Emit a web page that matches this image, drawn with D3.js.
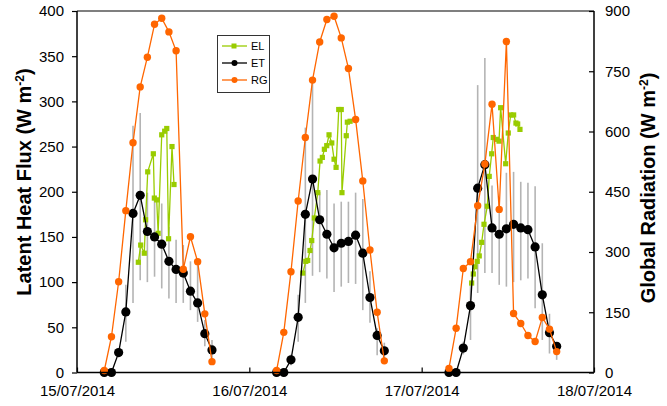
<!DOCTYPE html>
<html><head><meta charset="utf-8">
<script src="https://cdn.jsdelivr.net/npm/d3@7"></script>
<style>
html,body{margin:0;padding:0;background:#fff;}
svg text{font-family:"Liberation Sans",Arial,sans-serif;}
</style></head>
<body><svg id="chart" width="667" height="406"></svg>
<script>
// ---- DATA ----
const dayStarts = ["2014-07-15", "2014-07-16", "2014-07-17"];
const tickDates = ["2014-07-15", "2014-07-16", "2014-07-17", "2014-07-18"];
const leTicks = [0, 50, 100, 150, 200, 250, 300, 350, 400];
const rgTicks = [0, 150, 300, 450, 600, 750, 900];
// hour of day of the hourly RG / ET records
const hourlyHours = [3.8, 4.8, 5.8, 6.8, 7.8, 8.8, 9.8, 10.8, 11.8, 12.8, 13.8, 14.8, 15.8, 16.8, 17.8, 18.8];
// Global radiation (W m-2), right axis
const rgDay1 = [5, 89, 226, 403, 572, 711, 785, 867, 882, 848, 801, 257, 338, 276, 146, 27];
const rgDay2 = [5, 100, 251, 427, 585, 728, 823, 879, 887, 833, 757, 630, 477, 305, 150, 29];
const rgDay3 = [10, 110, 259, 276, 415, 519, 668, 406, 824, 147, 122, 92, 77, 137, 108, 52];
// ET latent heat flux (W m-2)
const etDay1 = [0, 0, 22, 67, 176, 196, 156, 150, 142, 123, 114, 110, 90, 77, 43, 25];
const etDay2 = [0, 0, 14, 61, 175, 214, 169, 153, 138, 143, 145, 152, 132, 83, 41, 24];
const etDay3 = [0, 0, 27, 74, 204, 230, 160, 153, 159, 164, 160, 158, 139, 86, 44, 29];
// ET error bar low / high
const etLowDay1 = [null, null, 17, 34, 77, 102, 100, 106, 93, 82, 77, 77, 69, 56, 29, 10];
const etHighDay1 = [null, null, 27, 97, 273, 287, 199, 191, 187, 161, 147, 141, 123, 121, 58, 36];
const etLowDay2 = [null, null, 8, 34, 77, 107, 111, 104, 89, 95, 99, 98, 69, 55, 19, 15];
const etHighDay2 = [null, null, 20, 86, 271, 323, 200, 202, 187, 189, 189, 199, 192, 112, 49, 33];
const etLowDay3 = [null, null, 20, 36, 88, 110, 110, 97, 95, 100, 102, 104, 71, 36, 21, 14];
const etHighDay3 = [null, null, 34, 99, 318, 348, 207, 194, 221, 222, 211, 210, 206, 143, 65, 32];
// EL latent heat flux (W m-2), ~20 min records
const elHoursDay1 = [8.54, 8.87, 9.37, 9.55, 9.85, 10.63, 10.77, 11.1, 11.3, 11.8, 12.21, 12.5, 12.75, 13.23, 13.51];
const elDay1 = [122, 141, 132, 169, 222, 242, 193, 191, 154, 263, 267, 270, 148, 250, 208];
const elHoursDay2 = [7.44, 7.86, 8.13, 8.45, 8.69, 9.05, 9.53, 9.85, 10.17, 10.45, 10.78, 11.1, 11.48, 11.8, 12.08, 12.45, 12.8, 12.9, 13.5, 13.65, 14.03];
const elDay2 = [110, 123, 124, 135, 146, 171, 199, 234, 238, 247, 251, 263, 254, 236, 227, 291, 291, 199, 262, 277, 278];
const elHoursDay3 = [6.96, 7.19, 7.42, 7.74, 8.02, 8.36, 8.68, 9.14, 9.41, 9.75, 9.97, 10.45, 10.77, 11.0, 11.7, 12.06, 12.4, 12.81, 13.13, 13.37, 13.69];
const elDay3 = [99, 109, 117, 123, 129, 144, 164, 184, 217, 242, 260, 258, 256, 293, 231, 265, 285, 285, 276, 275, 269];
const seriesNames = ["EL", "ET", "RG"];

// ---- BUILD ----
const parseDay = d3.timeParse("%Y-%m-%d");
const at = (day, h) => new Date(parseDay(day).getTime() + h * 3600e3);

const rgAll = [rgDay1, rgDay2, rgDay3];
const etAll = [etDay1, etDay2, etDay3];
const lowAll = [etLowDay1, etLowDay2, etLowDay3];
const highAll = [etHighDay1, etHighDay2, etHighDay3];
const elHAll = [elHoursDay1, elHoursDay2, elHoursDay3];
const elAll = [elDay1, elDay2, elDay3];

const rgDays = dayStarts.map((d, i) => hourlyHours.map((h, j) => ({t: at(d, h), v: rgAll[i][j]})));
const etDays = dayStarts.map((d, i) => hourlyHours.map((h, j) => ({t: at(d, h), v: etAll[i][j], lo: lowAll[i][j], hi: highAll[i][j]})));
const elDays = dayStarts.map((d, i) => elHAll[i].map((h, j) => ({t: at(d, h), v: elAll[i][j]})));

const W = 667, H = 406;
const m = {left: 77, right: 73, top: 11, bottom: 33.5};
const svg = d3.select("#chart");

const x = d3.scaleTime().domain([parseDay(tickDates[0]), parseDay(tickDates[3])]).range([m.left, W - m.right]);
const yL = d3.scaleLinear().domain([0, 400]).range([H - m.bottom, m.top]);
const yR = d3.scaleLinear().domain([0, 900]).range([H - m.bottom, m.top]);

const C = {EL: "#99cc00", ET: "#000000", RG: "#ff6600", bar: "#b4b4b4"};

// error bars
const gBars = svg.append("g");
etDays.forEach(day => {
  gBars.selectAll(null).data(day.filter(d => d.lo != null)).enter().append("line")
    .attr("x1", d => x(d.t)).attr("x2", d => x(d.t))
    .attr("y1", d => yL(d.lo)).attr("y2", d => yL(d.hi))
    .attr("stroke", C.bar).attr("stroke-width", 1.6);
});

const lineL = d3.line().x(d => x(d.t)).y(d => yL(d.v));
const lineR = d3.line().x(d => x(d.t)).y(d => yR(d.v));

// EL
elDays.forEach(day => {
  svg.append("path").datum(day).attr("d", lineL).attr("fill", "none").attr("stroke", C.EL).attr("stroke-width", 1.3);
  svg.selectAll(null).data(day).enter().append("rect")
    .attr("x", d => x(d.t) - 2.6).attr("y", d => yL(d.v) - 2.6).attr("width", 5.2).attr("height", 5.2).attr("fill", C.EL);
});
// ET
etDays.forEach(day => {
  svg.append("path").datum(day).attr("d", lineL).attr("fill", "none").attr("stroke", C.ET).attr("stroke-width", 1.3);
  svg.selectAll(null).data(day).enter().append("circle")
    .attr("cx", d => x(d.t)).attr("cy", d => yL(d.v)).attr("r", 4.6).attr("fill", C.ET);
});
// RG
rgDays.forEach(day => {
  svg.append("path").datum(day).attr("d", lineR).attr("fill", "none").attr("stroke", C.RG).attr("stroke-width", 1.3);
  svg.selectAll(null).data(day).enter().append("circle")
    .attr("cx", d => x(d.t)).attr("cy", d => yR(d.v)).attr("r", 3.7).attr("fill", C.RG);
});

// frame
svg.append("line").attr("x1", m.left).attr("x2", W - m.right).attr("y1", m.top).attr("y2", m.top)
  .attr("stroke", "#555").attr("stroke-width", 1.3);

// axes
const fs = 15;
const axL = svg.append("g").attr("transform", `translate(${m.left},0)`)
  .call(d3.axisLeft(yL).tickValues(leTicks).tickSize(5).tickPadding(8).tickFormat(d3.format("d")));
const axR = svg.append("g").attr("transform", `translate(${W - m.right},0)`)
  .call(d3.axisRight(yR).tickValues(rgTicks).tickSize(-5).tickPadding(11).tickFormat(d3.format("d")));
const axB = svg.append("g").attr("transform", `translate(0,${H - m.bottom})`)
  .call(d3.axisBottom(x).tickValues(tickDates.map(parseDay)).tickSize(-5).tickPadding(13).tickFormat(d3.timeFormat("%d/%m/%Y")));
[axL, axR, axB].forEach(a => {
  a.select(".domain").attr("stroke", "#000").attr("stroke-width", 1.5);
  a.selectAll(".tick line").attr("stroke", "#000").attr("stroke-width", 1.2);
  a.selectAll(".tick text").attr("font-size", fs).attr("fill", "#000").attr("font-family", "Liberation Sans, Arial, sans-serif");
});
axB.selectAll(".domain").attr("d", `M${m.left},0H${W - m.right}`);
axL.selectAll(".domain").attr("d", `M0,${m.top}V${H - m.bottom}`);
axR.selectAll(".domain").attr("d", `M0,${m.top}V${H - m.bottom}`);

// titles
function title(tx, ty, label) {
  const t = svg.append("text").attr("transform", `translate(${tx},${ty}) rotate(-90)`)
    .attr("text-anchor", "middle").attr("font-weight", "bold").attr("font-size", 20).attr("fill", "#000");
  t.append("tspan").text(label + " (W m");
  t.append("tspan").attr("baseline-shift", "super").attr("font-size", 12).text("-2");
  t.append("tspan").text(")");
}
title(31, 182, "Latent Heat Flux");
title(655, 188, "Global Radiation");

// legend
const lg = svg.append("g");
lg.append("rect").attr("x", 217.5).attr("y", 35.5).attr("width", 52).attr("height", 57)
  .attr("fill", "#fff").attr("stroke", "#333").attr("stroke-width", 1);
seriesNames.forEach((name, i) => {
  const cy = 46 + i * 17;
  lg.append("line").attr("x1", 222).attr("x2", 247).attr("y1", cy).attr("y2", cy).attr("stroke", C[name]).attr("stroke-width", 1.3);
  if (name === "EL") lg.append("rect").attr("x", 231.5).attr("y", cy - 2.5).attr("width", 5).attr("height", 5).attr("fill", C[name]);
  else lg.append("circle").attr("cx", 234.5).attr("cy", cy).attr("r", 3).attr("fill", C[name]);
  lg.append("text").attr("x", 251).attr("y", cy + 4).attr("font-size", 11).attr("fill", "#000").text(name);
});
</script></body></html>
